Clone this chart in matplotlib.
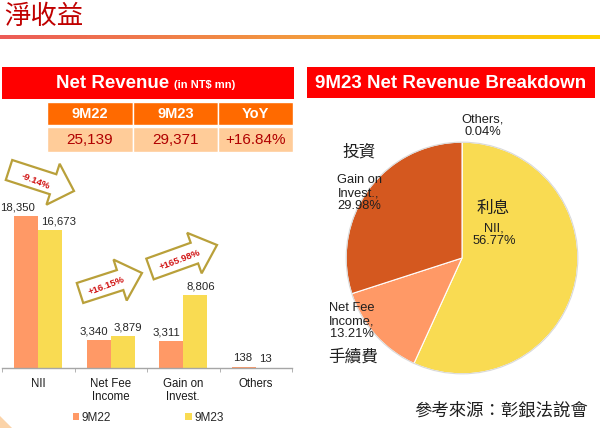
import numpy as np
import matplotlib
matplotlib.use("Agg")
import matplotlib.pyplot as plt
from matplotlib.patches import Rectangle, Polygon, Circle
from matplotlib.colors import LinearSegmentedColormap

plt.rcParams['font.family'] = ['Liberation Sans', 'Noto Sans CJK TC', 'DejaVu Sans']

# ---------------- data ----------------
categories = ['NII', 'Net Fee\nIncome', 'Gain on\nInvest.', 'Others']
series_names = ['9M22', '9M23']
values_9m22 = [18350, 3340, 3311, 138]
values_9m23 = [16673, 3879, 8806, 13]
yoy_labels = ['-9.14%', '+16.15%', '+165.98%']

table_headers = ['9M22', '9M23', 'YoY']
table_values = ['25,139', '29,371', '+16.84%']

pie_labels = ['Others', 'NII', 'Net Fee\nIncome', 'Gain on\nInvest.']
pie_values = [0.04, 56.77, 13.21, 29.98]

W, H = 600, 428
C22 = '#FF9966'
C23 = '#F9DB52'
CGAIN = '#D4581F'
RED = '#FF0000'

fig = plt.figure(figsize=(W / 100, H / 100), dpi=100)
fig.patch.set_facecolor('white')


def fx(x):
    return x / W


def fy(y):
    return 1 - y / H


def rect(x0, y0, x1, y1, color, ec='none', lw=0):
    fig.patches.append(Rectangle((fx(x0), fy(y1)), (x1 - x0) / W, (y1 - y0) / H,
                                 transform=fig.transFigure, facecolor=color,
                                 edgecolor=ec, linewidth=lw, zorder=1))


# ---------------- title & gradient line ----------------
fig.text(fx(4), fy(17), '淨收益', fontsize=19, color='#C00000', va='center', ha='left',
         family=['Noto Sans CJK TC'])
gax = fig.add_axes([0, fy(39), 1, 4 / H])
cmap = LinearSegmentedColormap.from_list('g', ['#EC5B57', '#F39A3F', '#FFD200'])
gax.imshow(np.linspace(0, 1, 256)[None, :], aspect='auto', cmap=cmap)
gax.axis('off')

# ---------------- left header & table ----------------
rect(2, 67, 294, 99, RED)
fig.text(fx(169), fy(83), 'Net Revenue', fontsize=13.5, fontweight='bold', color='white',
         ha='right', va='center')
fig.text(fx(174), fy(84.5), '(in NT$ mn)', fontsize=8, fontweight='bold', color='white',
         ha='left', va='center')

col_edges = [47, 133, 218, 293]
for i in range(3):
    rect(col_edges[i], 102, col_edges[i + 1], 125, '#FF6A00', ec='white', lw=1)
    rect(col_edges[i], 127, col_edges[i + 1], 152, '#FFCC99', ec='white', lw=1)
    cx = (col_edges[i] + col_edges[i + 1]) / 2
    fig.text(fx(cx), fy(114), table_headers[i], fontsize=10.5, fontweight='bold',
             color='white', ha='center', va='center')
    fig.text(fx(cx), fy(140), table_values[i], fontsize=11, color='#B00000',
             ha='center', va='center')

# ---------------- bar chart ----------------
base_y, top_y = 368, 150
px_per_unit = (368 - 216) / 18350.0
ax = fig.add_axes([fx(2), fy(base_y), 290 / W, (base_y - top_y) / H])
x = np.arange(len(categories))
bw = 0.33
b1 = ax.bar(x - bw / 2, values_9m22, bw, color=C22, label=series_names[0], zorder=2)
b2 = ax.bar(x + bw / 2, values_9m23, bw, color=C23, label=series_names[1], zorder=2)
ax.set_xlim(-0.5, len(categories) - 0.5)
ax.set_ylim(0, (base_y - top_y) / px_per_unit)
for s in ['top', 'right', 'left']:
    ax.spines[s].set_visible(False)
ax.spines['bottom'].set_color('#A6A6A6')
ax.spines['bottom'].set_linewidth(1)
ax.set_yticks([])
ax.set_xticks(x)
ax.set_xticklabels(categories, fontsize=8.3, color='#1a1a1a', linespacing=1.15)
ax.tick_params(axis='x', which='major', length=0, pad=7)
ax.set_xticks(np.arange(-0.5, len(categories)), minor=True)
ax.tick_params(axis='x', which='minor', length=3, color='#A6A6A6', direction='out')
ax.patch.set_alpha(0)

# 9M22 labels: right-aligned just inside the bar's right edge; 9M23: left-aligned past left edge
for rct, v in zip(b1, values_9m22):
    ax.annotate(f'{v:,}', (rct.get_x() + rct.get_width(), v), xytext=(-2.2, 2.5),
                textcoords='offset points', ha='right', va='bottom', fontsize=8.2,
                color='#262626')
for rct, v in zip(b2, values_9m23):
    ax.annotate(f'{v:,}', (rct.get_x(), v), xytext=(2.2, 2.5),
                textcoords='offset points', ha='left', va='bottom', fontsize=8.2,
                color='#262626')

leg = ax.legend(handles=[b1, b2], loc='center', bbox_to_anchor=(fx(148), fy(418)),
                bbox_transform=fig.transFigure, ncol=2, frameon=False, fontsize=8.5,
                handlelength=0.55, handleheight=0.55, handletextpad=0.2,
                columnspacing=6.3)
for t in leg.get_texts():
    t.set_color('#262626')


# ---------------- arrows ----------------
def block_arrow(tail, tip, body_w, head_w, head_len, text, text_rot, text_pos):
    t = np.array([tail[0], -tail[1]], float)
    p = np.array([tip[0], -tip[1]], float)
    L = np.linalg.norm(p - t)
    u = (p - t) / L
    n = np.array([-u[1], u[0]])
    hb = t + u * (L - head_len)
    pts = [t + n * body_w / 2, hb + n * body_w / 2, hb + n * head_w / 2, p,
           hb - n * head_w / 2, hb - n * body_w / 2, t - n * body_w / 2]
    pts = [(fx(q[0]), fy(-q[1])) for q in pts]
    fig.patches.append(Polygon(pts, closed=True, transform=fig.transFigure,
                               facecolor='white', edgecolor='#B9A03A', linewidth=1.6,
                               joinstyle='miter', zorder=3))
    fig.text(fx(text_pos[0]), fy(text_pos[1]), text, rotation=text_rot, fontsize=6.8,
             fontweight='bold', color='#D01010', ha='center', va='center',
             rotation_mode='anchor', zorder=4)


block_arrow((9, 170), (74, 191), 21, 43, 22, yoy_labels[0], -22, (36, 181))
block_arrow((80, 293), (142, 273), 21, 43, 23, yoy_labels[1], 21, (107, 286))
block_arrow((150, 269), (217, 245), 22, 43, 24, yoy_labels[2], 21, (180, 260))

# ---------------- right panel ----------------
rect(307, 67, 595, 98, RED)
fig.text(fx(451), fy(83), '9M23 Net Revenue Breakdown', fontsize=13.5, fontweight='bold',
         color='white', ha='center', va='center')

pcx, pcy, r = 462, 258, 117
pax = fig.add_axes([fx(pcx - r), fy(pcy + r), 2 * r / W, 2 * r / H])
pax.pie(pie_values, colors=['#BFBFBF', C23, C22, CGAIN], startangle=90, counterclock=False,
        wedgeprops=dict(edgecolor='white', linewidth=0.8))
pax.add_patch(Circle((0, 0), 1.0, facecolor='none', edgecolor='#D9D9D9', linewidth=0.8))
pax.set_xlim(-1.01, 1.01)
pax.set_ylim(-1.01, 1.01)
pax.set_aspect('equal')

lab_col = '#1f1f1f'
pfs = 9.3
fig.text(fx(483), fy(126), f'{pie_labels[0]},\n{pie_values[0]:.2f}%', fontsize=pfs,
         ha='center', va='center', color=lab_col, linespacing=1.1)
fig.text(fx(494), fy(235), f'{pie_labels[1]},\n{pie_values[1]:.2f}%', fontsize=pfs,
         ha='center', va='center', color=lab_col, linespacing=1.1)
fig.text(fx(352), fy(321), f'{pie_labels[2]},\n{pie_values[2]:.2f}%', fontsize=pfs,
         ha='center', va='center', color=lab_col, linespacing=1.1)
fig.text(fx(359), fy(193), f'{pie_labels[3]},\n{pie_values[3]:.2f}%', fontsize=pfs,
         ha='center', va='center', color=lab_col, linespacing=1.1)

cjk = ['Noto Sans CJK TC']
fig.text(fx(359), fy(152), '投資', fontsize=12, family=cjk, ha='center', va='center', color=lab_col)
fig.text(fx(493), fy(208), '利息', fontsize=12, family=cjk, ha='center', va='center', color=lab_col)
fig.text(fx(353), fy(357), '手續費', fontsize=12, family=cjk, ha='center', va='center', color=lab_col)
fig.text(fx(588), fy(410), '參考來源：彰銀法說會', fontsize=12.5, family=cjk, ha='right',
         va='center', color=lab_col)

# corner decoration
fig.patches.append(Polygon([(fx(0), fy(428)), (fx(0), fy(416)), (fx(12), fy(428))],
                           closed=True, transform=fig.transFigure, facecolor='#FBD3A8',
                           edgecolor='none'))

fig.savefig('out.png', dpi=100, facecolor='white')
